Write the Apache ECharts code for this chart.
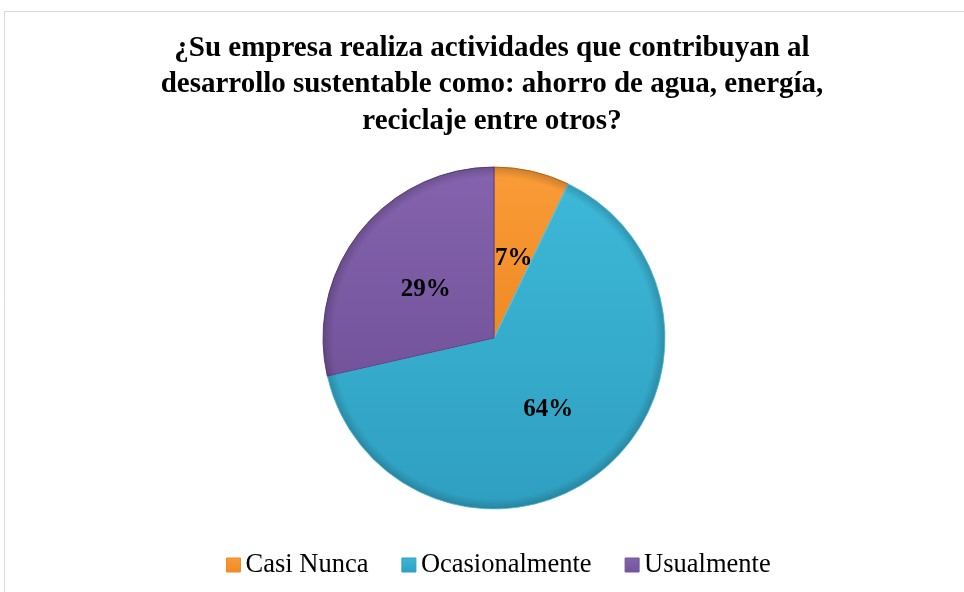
<!DOCTYPE html>
<html>
<head>
<meta charset="utf-8">
<script src="https://cdn.jsdelivr.net/npm/echarts@6/dist/echarts.min.js"></script>
<style>
  html, body { margin: 0; padding: 0; background: #fff; }
  #chart { width: 964px; height: 592px; }
</style>
</head>
<body>
<div id="chart"></div>
<script>
// respuestas (14 encuestados)
const categories = ['Casi Nunca', 'Ocasionalmente', 'Usualmente']
const counts = [1, 9, 4]
const titleText = '¿Su empresa realiza actividades que contribuyan al\ndesarrollo sustentable como: ahorro de agua, energía,\nreciclaje entre otros?'

const tops = ['#fa9c38', '#3db8d8', '#8563ae']
const bottoms = ['#ef8a24', '#2f9fc0', '#73549b']
const edge = ['#c8711a', '#5fcbe6', '#5c4283']
// ajuste vertical de las etiquetas (best fit de Excel)
const labelShift = [[0, 7], [-1, 2], [1, 7]]

function fill(i) {
  return new echarts.graphic.LinearGradient(0, 0, 0, 1, [
    { offset: 0, color: tops[i] },
    { offset: 1, color: bottoms[i] },
  ])
}

const chart = echarts.init(document.getElementById('chart'))
chart.setOption({
  animation: false,
  backgroundColor: '#fff',
  graphic: [
    {
      type: 'rect',
      shape: { x: 4.5, y: 11.5, width: 980, height: 600 },
      style: { fill: 'none', stroke: '#d9d9d9', lineWidth: 1 },
      silent: true,
    },
  ],
  title: {
    text: titleText,
    left: 487,
    textAlign: 'center',
    top: 25,
    textStyle: {
      fontFamily: 'Liberation Serif',
      fontWeight: 'bold',
      fontSize: 29,
      lineHeight: 36.5,
      color: '#000',
    },
  },
  legend: {
    top: 551,
    left: 226,
    padding: 0,
    itemWidth: 14,
    itemHeight: 14,
    itemGap: 33,
    icon: 'rect',
    textStyle: {
      fontFamily: 'Liberation Serif',
      fontSize: 26.5,
      lineHeight: 28,
      color: '#000',
    },
    data: categories.map((n, i) => ({
      name: n,
      itemStyle: {
        color: fill(i),
        borderColor: bottoms[i],
        borderWidth: 1,
      },
    })),
  },
  series: [
    {
      type: 'pie',
      center: [494, 338],
      radius: 171,
      startAngle: 90,
      clockwise: true,
      label: {
        show: true,
        position: 'inside',
        formatter: (p) => Math.round(p.percent) + '%',
        fontFamily: 'Liberation Serif',
        fontWeight: 'bold',
        fontSize: 25,
        color: '#000',
      },
      labelLine: { show: false },
      data: categories.map((n, i) => ({
        name: n,
        value: counts[i],
        label: { offset: labelShift[i] },
        itemStyle: {
          color: fill(i),
          borderColor: edge[i],
          borderWidth: 1,
        },
      })),
    },
    {
      // sombreado del borde
      type: 'pie',
      silent: true,
      center: [494, 338],
      radius: 171,
      label: { show: false },
      labelLine: { show: false },
      data: [
        {
          value: 1,
          name: '',
          itemStyle: {
            color: new echarts.graphic.RadialGradient(0.5, 0.5, 0.5, [
              { offset: 0, color: 'rgba(0,0,0,0)' },
              { offset: 0.94, color: 'rgba(0,0,0,0)' },
              { offset: 1, color: 'rgba(0,0,0,0.18)' },
            ]),
          },
        },
      ],
    },
  ],
})
</script>
</body>
</html>
